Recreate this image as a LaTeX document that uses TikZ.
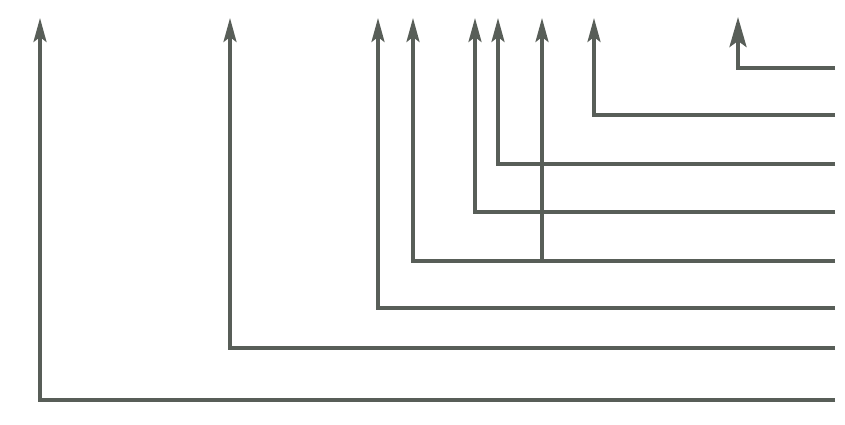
\documentclass[tikz,border=0pt]{standalone}
\usetikzlibrary{arrows.meta}
\definecolor{ink}{RGB}{88,94,88}
\begin{document}
\begin{tikzpicture}[x=1pt,y=-1pt,
  wire/.style={draw=ink,line width=3.3pt,line join=miter},
  arr/.style={wire,-{Stealth[length=24pt,width=13pt,inset=5pt]}},
  bigarr/.style={wire,line width=3.8pt,-{Stealth[length=30pt,width=17pt,inset=6pt]}}]
\useasboundingbox (0,0) rectangle (845,424);
% right-side start points
\coordinate (r1) at (835,68);
\coordinate (r2) at (835,115);
\coordinate (r3) at (835,164);
\coordinate (r4) at (835,212);
\coordinate (r5) at (835,261);
\coordinate (r6) at (835,308);
\coordinate (r7) at (835,348);
\coordinate (r8) at (835,400);
% arrow tips
\coordinate (t1) at (738,17);
\coordinate (t2) at (594,18);
\coordinate (t3) at (498,18);
\coordinate (t4) at (475,18);
\coordinate (t5) at (413,18);
\coordinate (t6) at (378,18);
\coordinate (t7) at (230,18);
\coordinate (t8) at (40,18);
\coordinate (t9) at (542,18);
\coordinate (j9) at (542,261);
\draw[bigarr] (r1) -| (t1);
\draw[arr] (r2) -| (t2);
\draw[arr] (r3) -| (t3);
\draw[arr] (r4) -| (t4);
\draw[arr] (r5) -| (t5);
\draw[arr] (r6) -| (t6);
\draw[arr] (r7) -| (t7);
\draw[arr] (r8) -| (t8);
\draw[arr] (j9) -- (t9);
\end{tikzpicture}
\end{document}
